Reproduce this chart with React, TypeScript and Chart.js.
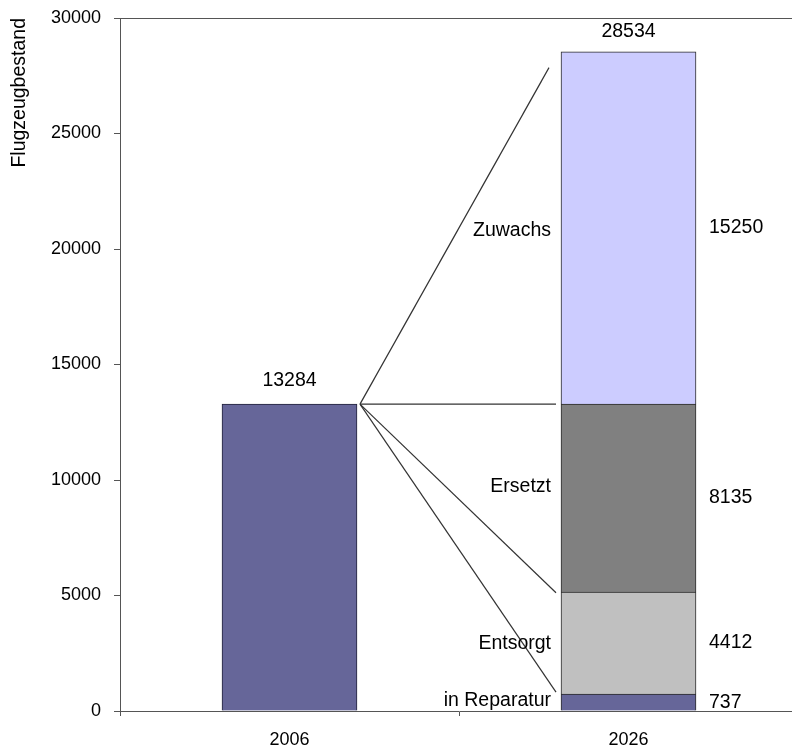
import { useEffect, useRef } from "react";
import { Chart, registerables } from "chart.js";

Chart.register(...registerables);

// Fleet size 2006 vs. forecast 2026, split by what becomes of today's aircraft
const years = ["2006", "2026"];
const fleet2006 = 13284;
const segmentNames = ["in Reparatur", "Entsorgt", "Ersetzt", "Zuwachs"];
const segmentValues = [737, 4412, 8135, 15250];
const segmentColors = ["#666699", "#C0C0C0", "#808080", "#CCCCFF"];
const fleet2026 = 28534;
const yMax = 30000;
const yStep = 5000;
// values at which the fan lines from the 2006 bar meet the 2026 bar
const connectorEnds = [27850, 13284, 5120, 820];
const connectorGaps = [12, 5, 5, 5];
const nameNudge = [-2, 1, -11, 3];

const FONT = "'Liberation Sans', Arial, sans-serif";

export default function App() {
  const canvasRef = useRef<HTMLCanvasElement | null>(null);

  useEffect(() => {
    if (!canvasRef.current) return;

    const annotations = {
      id: "fleetAnnotations",
      afterDatasetsDraw(chart: any) {
        const ctx = chart.ctx;
        const y = chart.scales.y;
        const area = chart.chartArea;
        const bar2006 = chart.getDatasetMeta(0).data[0];
        const lastMeta = chart.getDatasetMeta(segmentValues.length);
        const bar2026 = lastMeta.data[1];
        const right2006 = bar2006.x + bar2006.width / 2;
        const left2026 = bar2026.x - bar2026.width / 2;
        const right2026 = bar2026.x + bar2026.width / 2;

        ctx.save();
        // frame line along the top of the plot
        ctx.strokeStyle = "#555555";
        ctx.lineWidth = 1;
        ctx.beginPath();
        ctx.moveTo(area.left, Math.round(area.top) + 0.5);
        ctx.lineTo(area.right, Math.round(area.top) + 0.5);
        ctx.stroke();

        // fan of connector lines
        ctx.strokeStyle = "#333333";
        ctx.lineWidth = 1.2;
        const sx = right2006 + 3;
        const sy = y.getPixelForValue(fleet2006);
        connectorEnds.forEach((v, i) => {
          ctx.beginPath();
          ctx.moveTo(sx, sy);
          ctx.lineTo(left2026 - connectorGaps[i], y.getPixelForValue(v));
          ctx.stroke();
        });

        ctx.fillStyle = "#000000";
        ctx.font = `19.5px ${FONT}`;
        ctx.textBaseline = "middle";

        // totals above the bars
        ctx.textAlign = "center";
        ctx.fillText(String(fleet2006), bar2006.x, y.getPixelForValue(fleet2006) - 24);
        ctx.fillText(String(fleet2026), bar2026.x, y.getPixelForValue(fleet2026) - 20);

        // segment names to the left, values to the right
        let base = 0;
        segmentValues.forEach((v, i) => {
          const mid = y.getPixelForValue(base + v / 2);
          ctx.textAlign = "right";
          ctx.fillText(segmentNames[i], left2026 - 10, mid + nameNudge[i]);
          ctx.textAlign = "left";
          ctx.fillText(String(v), right2026 + 13, mid);
          base += v;
        });
        ctx.restore();
      },
    };

    const datasets: any[] = [
      {
        label: "Bestand 2006",
        data: [fleet2006, null],
        backgroundColor: "#666699",
        borderColor: "#22223a",
        borderWidth: 1,
      },
      ...segmentValues.map((v, i) => ({
        label: segmentNames[i],
        data: [null, v],
        backgroundColor: segmentColors[i],
        borderColor: "#2a2a2a",
        borderWidth: 1,
      })),
    ];

    const chart = new Chart(canvasRef.current, {
      type: "bar",
      data: { labels: years, datasets },
      options: {
        animation: false,
        responsive: true,
        maintainAspectRatio: false,
        layout: { padding: { top: 18, right: 2, left: 0, bottom: 0 } },
        datasets: { bar: { barThickness: 135 } },
        plugins: {
          legend: { display: false },
          tooltip: { enabled: false },
        },
        scales: {
          x: {
            stacked: true,
            afterFit: (s: any) => {
              s.height = 36;
              s.paddingLeft = 0;
              s.paddingRight = 0;
            },
            border: { display: true, color: "#555555", width: 1 },
            grid: {
              display: true,
              offset: true,
              drawOnChartArea: false,
              drawTicks: true,
              tickLength: 5,
              color: "#555555",
            },
            ticks: {
              color: "#000000",
              padding: 13,
              font: { family: FONT, size: 18 },
            },
          },
          y: {
            stacked: true,
            min: 0,
            max: yMax,
            afterFit: (s: any) => {
              s.width = 120;
              s.paddingTop = 0;
              s.paddingBottom = 0;
            },
            border: { display: true, color: "#555555", width: 1 },
            grid: {
              display: true,
              drawOnChartArea: false,
              drawTicks: true,
              tickLength: 6,
              color: "#555555",
            },
            ticks: {
              stepSize: yStep,
              color: "#000000",
              padding: 13,
              font: { family: FONT, size: 18 },
              callback: (v: any) => String(v),
            },
            title: {
              display: true,
              text: "Flugzeugbestand",
              align: "end",
              color: "#000000",
              padding: { top: 8, bottom: 0 },
              font: { family: FONT, size: 19.5 },
            },
          },
        },
      },
      plugins: [annotations],
    });

    return () => chart.destroy();
  }, []);

  return (
    <div
      style={{
        position: "absolute",
        left: 0,
        top: 0,
        width: 792,
        height: 747,
        overflow: "hidden",
        background: "#ffffff",
      }}
    >
      <div style={{ position: "relative", width: 800, height: 747 }}>
        <canvas ref={canvasRef} />
      </div>
    </div>
  );
}
